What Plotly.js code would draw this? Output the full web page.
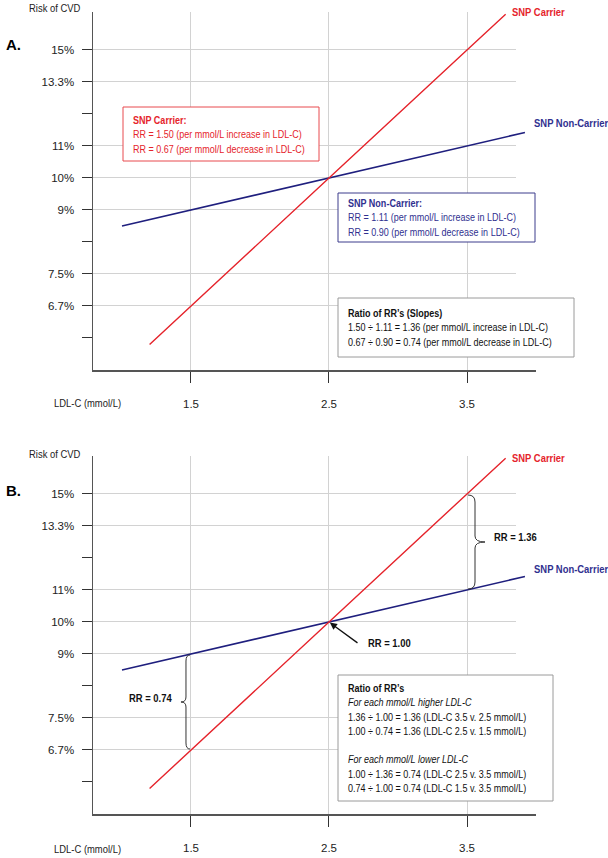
<!DOCTYPE html>
<html>
<head>
<meta charset="utf-8">
<script src="https://cdn.plot.ly/plotly-3.0.1.min.js"></script>
<style>html,body{margin:0;padding:0;background:#fff;}#chart{width:608px;height:858px;}</style>
</head>
<body>
<div id="chart"></div>
<script>
// ---- data ----
const carrierX = [1.2, 1.5, 2.5, 3.5, 3.78];
const carrierRisk = [5.9, 6.667, 10, 15, 16.8];
const nonCarrierX = [1.0, 1.5, 2.5, 3.5, 3.92];
const nonCarrierRisk = [8.59, 9.036, 10, 11.067, 11.55];
const xTickVals = [1.5, 2.5, 3.5];
const xTickText = ['1.5', '2.5', '3.5'];
const yTickVals = [6.024, 6.667, 7.378, 8.165, 9.036, 10, 11.067, 12.247, 13.554, 15.0];
const yTickText = ['', '6.7%', '7.5%', '', '9%', '10%', '11%', '', '13.3%', '15%'];
const yGridVals = [6.667, 7.378, 9.036, 10, 11.067, 13.554, 15.0];

// ---- style ----
const W = 608, H = 858;
const F = 'Liberation Sans, Arial, sans-serif';
const NARROW = 0.82;
const RED = '#e5232b', NAVY = '#1f1f7e', NAVYT = '#30308f', GRID = '#d2d2d2', AX = '#555555';
const px = x => x / W, py = y => 1 - y / H;
const xRange = [0.79, 4.0];
const yRange = [0.7358, 1.2289];
const xDom = [px(93), px(536)];
const xGridDom = [px(93), px(516)];
const yDomA = [py(370), py(11.6)];
const yDomB = [py(814), py(455.6)];

function gridX(anchor){ return {domain: xGridDom, range: xRange, anchor: anchor, showgrid:false, zeroline:false, showline:false, showticklabels:false, ticks:'', fixedrange:true}; }
function gridY(anchor, dom){ return {type:'log', domain: dom, range: yRange, anchor: anchor, tickvals: yGridVals, showgrid:true, gridcolor: GRID, gridwidth:1, zeroline:false, showline:false, showticklabels:false, ticks:'', fixedrange:true}; }
function dataX(anchor){ return {domain: xDom, range: xRange, anchor: anchor, tickmode:'array', tickvals: xTickVals, ticktext: xTickText,
  showgrid:true, gridcolor: GRID, gridwidth:1, zeroline:false, showline:true, linecolor: AX, linewidth:1.5,
  ticks:'outside', ticklen:11, tickwidth:1, tickcolor:'#333', ticklabelstandoff: 12,
  tickfont:{family:F, size:11.5, color:'#222'}, fixedrange:true}; }
function dataY(anchor, dom){ return {type:'log', domain: dom, range: yRange, anchor: anchor, tickmode:'array', tickvals: yTickVals, ticktext: yTickText,
  showgrid:false, zeroline:false, showline:true, linecolor: AX, linewidth:1.5,
  ticks:'outside', ticklen:10, tickwidth:1, tickcolor:'#333', ticklabelstandoff: 5,
  tickfont:{family:F, size:11.5, color:'#222'}, fixedrange:true}; }

const traces = [];
[['x2','y2'],['x4','y4']].forEach(([xa, ya]) => {
  traces.push({x: nonCarrierX, y: nonCarrierRisk, xaxis: xa, yaxis: ya, mode:'lines', line:{color: NAVY, width:1.6}, hoverinfo:'skip', showlegend:false});
  traces.push({x: carrierX, y: carrierRisk, xaxis: xa, yaxis: ya, mode:'lines', line:{color: RED, width:1.4}, hoverinfo:'skip', showlegend:false});
});

function txt(text, x, y, opts){
  return Object.assign({xref:'paper', yref:'paper', x: px(x), y: py(y), xanchor:'left', yanchor:'middle', showarrow:false, text: text,
    font:{family:F, size:11, color:'#111'}}, opts || {});
}

const annotations = [];
const shapes = [];
function box(text, l, t, r, b, border, color){
  shapes.push({type:'rect', xref:'paper', yref:'paper', x0: px(l), x1: px(r), y0: py(t), y1: py(b),
    fillcolor:'#ffffff', line:{color: border, width:1}, layer:'above'});
  annotations.push({xref:'paper', yref:'paper', x: px(l + 8), y: py((t + b) / 2), xanchor:'left', yanchor:'middle',
    showarrow:false, align:'left', text: text, font:{family:F, size:11, color: color}});
}

[[0, 'A.'], [446, 'B.']].forEach(([dy, lab]) => {
  annotations.push(txt('<b>' + lab + '</b>', 4, 44 + dy, {font:{family:F, size:15, color:'#000'}}));
  annotations.push(txt('Risk of CVD', 27, 8 + dy, {font:{family:F, size:11.5, color:'#222'}}));
  annotations.push(txt('LDL-C (mmol/L)', 52, 403 + dy, {font:{family:F, size:11.5, color:'#222'}}));
  annotations.push(txt('<b>SNP Carrier</b>', 510, 12 + dy, {font:{family:F, size:11.5, color: RED}}));
  annotations.push(txt('<b>SNP Non-Carrier</b>', 532, 123 + dy, {font:{family:F, size:11.5, color: NAVYT}}));
});

// Panel A boxes
box('<b>SNP Carrier:</b><br>RR = 1.50 (per mmol/L increase in LDL-C)<br>RR = 0.67 (per mmol/L decrease in LDL-C)', 123, 107, 319, 161, '#e84a4f', RED);
box('<b>SNP Non-Carrier:</b><br>RR = 1.11 (per mmol/L increase in LDL-C)<br>RR = 0.90 (per mmol/L decrease in LDL-C)', 338, 193, 535, 242, '#3c3c8c', NAVYT);
box('<b>Ratio of RR\u2019s (Slopes)</b><br>1.50 \u00f7 1.11 = 1.36 (per mmol/L increase in LDL-C)<br>0.67 \u00f7 0.90 = 0.74 (per mmol/L decrease in LDL-C)', 338, 298, 574, 357, '#9a9a9a', '#111');

// Panel B
box('<b>Ratio of RR\u2019s</b><br><i>For each mmol/L higher LDL-C</i><br>1.36 \u00f7 1.00 = 1.36 (LDL-C 3.5 v. 2.5 mmol/L)<br>1.00 \u00f7 0.74 = 1.36 (LDL-C 2.5 v. 1.5 mmol/L)<br> <br><i>For each mmol/L lower LDL-C</i><br>1.00 \u00f7 1.36 = 0.74 (LDL-C 2.5 v. 3.5 mmol/L)<br>0.74 \u00f7 1.00 = 0.74 (LDL-C 1.5 v. 3.5 mmol/L)', 338, 675, 553, 801, '#9a9a9a', '#111');
annotations.push(txt('<b>RR = 1.36</b>', 492, 537, {font:{family:F, size:11.5, color:'#111'}}));
annotations.push(txt('<b>RR = 0.74</b>', 127, 698, {font:{family:F, size:11.5, color:'#111'}}));
annotations.push(txt('<b>RR = 1.00</b>', 366, 643, {font:{family:F, size:11.5, color:'#111'}}));
annotations.push({xref:'x4', yref:'y4', x: 2.5, y: Math.log10(10), text:'', showarrow:true, ax: 30, ay: 22,
  arrowhead:2, arrowsize:1.1, arrowwidth:1.3, arrowcolor:'#111', standoff:1});

shapes.push(
  {type:'path', xref:'x4', yref:'y4 domain', xsizemode:'pixel', ysizemode:'pixel', xanchor: 3.5, yanchor: 8.5/11.2,
   path:'M1,47 Q8,47 8,40 L8,6 Q8,0 18,0 Q8,0 8,-6 L8,-40 Q8,-47 1,-47', line:{color:'#333', width:1}},
  {type:'path', xref:'x4', yref:'y4 domain', xsizemode:'pixel', ysizemode:'pixel', xanchor: 1.5, yanchor: 3.5/11.2,
   path:'M-1,47 Q-5,47 -5,41 L-5,5 Q-5,0 -10,0 Q-5,0 -5,-5 L-5,-41 Q-5,-47 -1,-47', line:{color:'#333', width:1}}
);

const layout = {
  width: W, height: H, autosize:false,
  margin:{l:0, r:0, t:0, b:0, pad:0},
  paper_bgcolor:'#ffffff', plot_bgcolor:'rgba(0,0,0,0)',
  showlegend:false,
  xaxis: gridX('y'), yaxis: gridY('x', yDomA),
  xaxis2: dataX('y2'), yaxis2: dataY('x2', yDomA),
  xaxis3: gridX('y3'), yaxis3: gridY('x3', yDomB),
  xaxis4: dataX('y4'), yaxis4: dataY('x4', yDomB),
  annotations: annotations,
  shapes: shapes
};

traces.unshift({x:[null], y:[null], xaxis:'x', yaxis:'y', mode:'lines', hoverinfo:'skip', showlegend:false});
traces.push({x:[null], y:[null], xaxis:'x3', yaxis:'y3', mode:'lines', hoverinfo:'skip', showlegend:false});

// condensed look (like Arial Narrow): squeeze annotation texts horizontally from their left edge
function narrowTexts(gd){
  gd.querySelectorAll('text.annotation-text').forEach(t => {
    const s = t.textContent.trim();
    if (s === 'A.' || s === 'B.' || s === '') return;
    t.style.transformBox = 'fill-box';
    t.style.transformOrigin = 'left center';
    t.style.transform = 'scaleX(' + NARROW + ')';
  });
}

Plotly.newPlot('chart', traces, layout, {staticPlot:true, displayModeBar:false}).then(narrowTexts);
</script>
</body>
</html>
